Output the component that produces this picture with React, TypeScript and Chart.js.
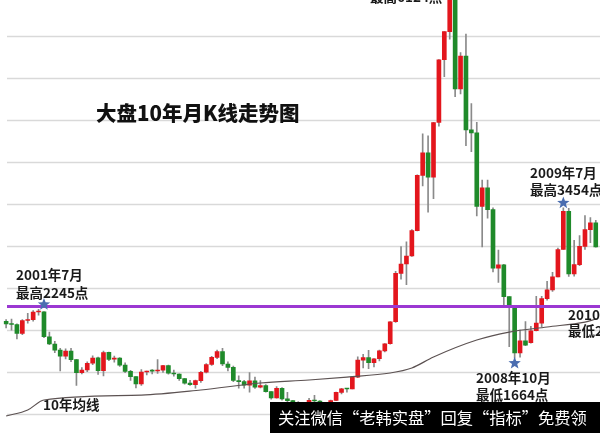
import { useEffect, useRef } from 'react';
import { Chart, registerables } from 'chart.js';

Chart.register(...registerables);

// Shanghai Composite, monthly K-line, 2000-12 .. 2010-01
const months = [
  '2000-12',
  '2001-01', '2001-02', '2001-03', '2001-04', '2001-05', '2001-06', '2001-07', '2001-08', '2001-09', '2001-10', '2001-11', '2001-12',
  '2002-01', '2002-02', '2002-03', '2002-04', '2002-05', '2002-06', '2002-07', '2002-08', '2002-09', '2002-10', '2002-11', '2002-12',
  '2003-01', '2003-02', '2003-03', '2003-04', '2003-05', '2003-06', '2003-07', '2003-08', '2003-09', '2003-10', '2003-11', '2003-12',
  '2004-01', '2004-02', '2004-03', '2004-04', '2004-05', '2004-06', '2004-07', '2004-08', '2004-09', '2004-10', '2004-11', '2004-12',
  '2005-01', '2005-02', '2005-03', '2005-04', '2005-05', '2005-06', '2005-07', '2005-08', '2005-09', '2005-10', '2005-11', '2005-12',
  '2006-01', '2006-02', '2006-03', '2006-04', '2006-05', '2006-06', '2006-07', '2006-08', '2006-09', '2006-10', '2006-11', '2006-12',
  '2007-01', '2007-02', '2007-03', '2007-04', '2007-05', '2007-06', '2007-07', '2007-08', '2007-09', '2007-10', '2007-11', '2007-12',
  '2008-01', '2008-02', '2008-03', '2008-04', '2008-05', '2008-06', '2008-07', '2008-08', '2008-09', '2008-10', '2008-11', '2008-12',
  '2009-01', '2009-02', '2009-03', '2009-04', '2009-05', '2009-06', '2009-07', '2009-08', '2009-09', '2009-10', '2009-11', '2009-12',
  '2010-01',
];

const opens = [
  2104,
  2077, 2066, 1961, 2113, 2122, 2215, 2218, 1920, 1834, 1761, 1690, 1748,
  1647, 1491, 1525, 1604, 1668, 1516, 1733, 1652, 1666, 1582, 1508, 1445,
  1357, 1500, 1512, 1512, 1521, 1576, 1487, 1476, 1421, 1367, 1348, 1397,
  1497, 1590, 1675, 1742, 1595, 1555, 1399, 1386, 1342, 1396, 1320, 1340,
  1266, 1191, 1306, 1181, 1159, 1060, 1080, 1083, 1162, 1155, 1092, 1099,
  1161, 1258, 1299, 1298, 1440, 1641, 1672, 1612, 1658, 1752, 1837, 2099,
  2675, 2786, 2881, 3183, 3841, 4109, 3820, 4471, 5218, 5552, 5954, 4871,
  5261, 4383, 4348, 3472, 3693, 3433, 2736, 2775, 2397, 2293, 1728, 1871,
  1849, 1991, 2082, 2373, 2477, 2632, 2959, 3412, 2667, 2779, 2995, 3195,
  3277,
];

const highs = [
  2125,
  2131, 2075, 2124, 2200, 2232, 2245, 2219, 1974, 1865, 1782, 1776, 1782,
  1650, 1552, 1620, 1694, 1679, 1748, 1736, 1691, 1671, 1609, 1520, 1446,
  1528, 1512, 1530, 1649, 1580, 1583, 1522, 1479, 1424, 1400, 1403, 1507,
  1600, 1686, 1760, 1783, 1621, 1570, 1455, 1402, 1493, 1440, 1399, 1349,
  1268, 1328, 1316, 1257, 1162, 1147, 1084, 1187, 1223, 1160, 1109, 1165,
  1262, 1306, 1304, 1445, 1682, 1712, 1757, 1660, 1760, 1840, 2100, 2699,
  2994, 3050, 3197, 3848, 4335, 4311, 4472, 5220, 5553, 6124, 5955, 5303,
  5522, 4695, 4473, 3786, 3786, 3455, 2952, 2783, 2397, 2293, 2000, 2100,
  2045, 2402, 2400, 2579, 2688, 2975, 3454, 3448, 3069, 3123, 3361, 3338,
  3306,
];

const lows = [
  2024,
  1999, 1893, 1946, 2081, 2106, 2178, 1908, 1826, 1731, 1514, 1657, 1623,
  1339, 1476, 1503, 1587, 1470, 1455, 1636, 1618, 1567, 1493, 1400, 1311,
  1339, 1465, 1476, 1484, 1496, 1474, 1452, 1400, 1356, 1340, 1307, 1376,
  1490, 1580, 1658, 1575, 1513, 1385, 1308, 1309, 1260, 1306, 1311, 1259,
  1178, 1189, 1166, 1131, 1043, 998, 1004, 1069, 1130, 1067, 1074, 1090,
  1158, 1240, 1259, 1298, 1434, 1548, 1541, 1560, 1631, 1740, 1832, 2091,
  2605, 2541, 2877, 3180, 3716, 3404, 3563, 4426, 5017, 5462, 4778, 4812,
  4196, 4123, 3358, 2990, 3333, 2693, 2566, 2284, 1802, 1664, 1678, 1814,
  1844, 1990, 2037, 2355, 2461, 2632, 2959, 2639, 2640, 2765, 2961, 3039,
  2986,
];

const closes = [
  2073,
  2066, 1960, 2112, 2119, 2214, 2218, 1920, 1834, 1761, 1690, 1748, 1646,
  1491, 1524, 1603, 1667, 1515, 1732, 1651, 1666, 1581, 1507, 1444, 1357,
  1500, 1512, 1511, 1521, 1576, 1487, 1476, 1421, 1367, 1348, 1397, 1497,
  1590, 1675, 1742, 1595, 1555, 1399, 1386, 1342, 1396, 1320, 1340, 1266,
  1191, 1306, 1181, 1159, 1060, 1080, 1083, 1162, 1155, 1092, 1099, 1161,
  1258, 1299, 1298, 1440, 1641, 1672, 1612, 1658, 1752, 1837, 2099, 2675,
  2786, 2881, 3183, 3841, 4109, 3820, 4471, 5218, 5552, 5954, 4871, 5261,
  4383, 4348, 3472, 3693, 3433, 2736, 2775, 2397, 2293, 1728, 1871, 1820,
  1991, 2082, 2373, 2477, 2632, 2959, 3412, 2667, 2779, 2995, 3195, 3277,
  2989,
];

// 10-year moving average (sampled months)
const maMonths = ['2000-12', '2001-04', '2001-07', '2003-01', '2003-12', '2004-11', '2005-08', '2006-03', '2006-11', '2007-03', '2007-07', '2008-03', '2008-09', '2009-04', '2009-11', '2010-01'];
const maValues = [976, 1048, 1167, 1226, 1286, 1369, 1405, 1440, 1488, 1548, 1679, 1881, 1976, 2036, 2095, 2131];

// horizontal grid levels
const gridLevels = [1000, 1500, 2000, 2500, 3000, 3500, 4000, 4500, 5000, 5500];
// horizontal reference line through the 2001 high
const resistanceLevel = 2280;

// starred extremes
const starMonths = ['2001-07', '2008-10', '2009-07'];
const starValues = [2245, 1664, 3454];
const starBelow = [false, true, false];

const TITLE = '大盘10年月K线走势图';
const MA_LABEL = '10年均线';
const BANNER = '关注微信“老韩实盘”回复“指标”免费领';

const notes = [
  { text: '最高6124点', x: 370, y: -3 },
  { text: '2001年7月', x: 16, y: 275 },
  { text: '最高2245点', x: 16, y: 293 },
  { text: '2009年7月', x: 530, y: 173 },
  { text: '最高3454点', x: 530, y: 190 },
  { text: '2008年10月', x: 476, y: 378 },
  { text: '最低1664点', x: 476, y: 395 },
  { text: '2010年7月', x: 568, y: 315 },
  { text: '最低2319点', x: 568, y: 331 },
];

const UP = '#e3161d';
const DOWN = '#1f8a2a';
const WICK = '#8a8a8a';
const CJK = '"Noto Sans CJK SC", "Noto Sans", sans-serif';

function drawStar(ctx: CanvasRenderingContext2D, cx: number, cy: number, r: number) {
  ctx.beginPath();
  for (let k = 0; k < 10; k++) {
    const rad = k % 2 === 0 ? r : r * 0.42;
    const a = -Math.PI / 2 + (k * Math.PI) / 5;
    const px = cx + rad * Math.cos(a);
    const py = cy + rad * Math.sin(a);
    if (k === 0) ctx.moveTo(px, py);
    else ctx.lineTo(px, py);
  }
  ctx.closePath();
  ctx.fill();
}

const overlay = {
  id: 'klineOverlay',
  beforeDatasetsDraw(chart: any) {
    const { ctx, scales } = chart;
    ctx.save();
    ctx.strokeStyle = '#d9d9d9';
    ctx.lineWidth = 1.6;
    gridLevels.forEach((v) => {
      const y = Math.round(scales.y.getPixelForValue(v)) + 0.5;
      ctx.beginPath();
      ctx.moveTo(7, y);
      ctx.lineTo(chart.width, y);
      ctx.stroke();
    });
    ctx.restore();
  },
  afterDatasetsDraw(chart: any) {
    const { ctx, scales } = chart;
    ctx.save();
    // purple reference line
    const ry = scales.y.getPixelForValue(resistanceLevel);
    ctx.strokeStyle = '#9b38d2';
    ctx.lineWidth = 3;
    ctx.beginPath();
    ctx.moveTo(7, ry);
    ctx.lineTo(chart.width, ry);
    ctx.stroke();

    // stars
    ctx.fillStyle = '#4a6db0';
    starMonths.forEach((m, i) => {
      const x = scales.x.getPixelForValue(months.indexOf(m));
      const y = scales.y.getPixelForValue(starValues[i]) + (starBelow[i] ? 5 : -5);
      drawStar(ctx, x, y, 6.5);
    });

    // title
    ctx.fillStyle = '#111';
    ctx.textBaseline = 'middle';
    ctx.textAlign = 'left';
    ctx.font = `900 20.5px ${CJK}`;
    ctx.fillText(TITLE, 96, 113);

    // annotations
    ctx.font = `bold 13.5px ${CJK}`;
    ctx.fillStyle = '#1a1a1a';
    notes.forEach((n) => ctx.fillText(n.text, n.x, n.y));
    ctx.fillText(MA_LABEL, 43, 405);

    // banner
    ctx.fillStyle = '#000';
    ctx.fillRect(270, 402, chart.width - 270, chart.height - 402);
    ctx.fillStyle = '#fff';
    ctx.font = `16.3px ${CJK}`;
    const chars = Array.from(BANNER);
    chars.forEach((c, i) => ctx.fillText(c, 278 + i * 16.25, 418));
    ctx.restore();
  },
};

export default function App() {
  const ref = useRef<HTMLCanvasElement>(null);

  useEffect(() => {
    if (!ref.current) return;
    const bodyColors = months.map((_, i) => (closes[i] >= opens[i] ? UP : DOWN));
    const chart = new Chart(ref.current, {
      type: 'bar',
      data: {
        labels: months,
        datasets: [
          {
            type: 'line',
            label: MA_LABEL,
            data: maMonths.map((m, i) => ({ x: m, y: maValues[i] })) as any,
            borderColor: '#5c5252',
            borderWidth: 1.2,
            pointRadius: 0,
            cubicInterpolationMode: 'monotone',
            order: 0,
          } as any,
          {
            label: 'wick',
            data: months.map((_, i) => [lows[i], highs[i]]) as any,
            backgroundColor: WICK,
            barThickness: 1,
            grouped: false,
            order: 2,
          } as any,
          {
            label: 'body',
            data: months.map((_, i) => [opens[i], closes[i]]) as any,
            backgroundColor: bodyColors,
            barThickness: 4,
            minBarLength: 1,
            grouped: false,
            order: 1,
          } as any,
        ],
      },
      options: {
        responsive: false,
        animation: false,
        layout: { padding: { left: 3.4, right: 1.5, top: 0, bottom: 0 } },
        plugins: { legend: { display: false }, tooltip: { enabled: false } },
        scales: {
          x: { display: false, offset: true },
          y: { display: false, min: 774, max: 5929 },
        },
      },
      plugins: [overlay],
    });
    return () => chart.destroy();
  }, []);

  return (
    <div style={{ position: 'fixed', left: 0, top: 0, width: 600, height: 433, background: '#fff', overflow: 'hidden' }}>
      <canvas ref={ref} width={600} height={433} style={{ display: 'block' }} />
    </div>
  );
}
